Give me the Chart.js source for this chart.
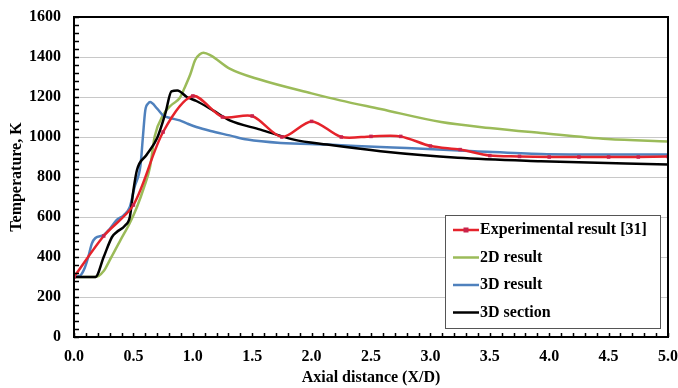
<!DOCTYPE html>
<html lang="en">
<head>
    <meta charset="UTF-8">
    <title>Axial temperature</title>
    <script src="https://cdn.jsdelivr.net/npm/chart.js"></script>
    <style>
        body { margin: 0; background: #fff; }
        #wrap { width: 678px; height: 388px; }
    </style>
</head>
<body>
    <div id="wrap"><canvas id="tempChart" width="678" height="388"></canvas></div>

    <script>
        // Measured temperature (markers every 0.25 X/D)
        const expX = [0, 0.25, 0.5, 0.75, 1.0, 1.25, 1.5, 1.75, 2.0, 2.25, 2.5, 2.75, 3.0, 3.25, 3.5, 3.75, 4.0, 4.25, 4.5, 4.75, 5.0];
        const expT = [300, 505, 660, 1025, 1205, 1100, 1105, 1000, 1078, 1000, 1003, 1003, 955, 937, 907, 903, 900, 900, 900, 900, 902];

        // 2D simulation
        const sim2dX = [0, 0.18, 0.25, 0.30, 0.39, 0.47, 0.53, 0.59, 0.64, 0.68, 0.75, 0.82, 0.89, 0.93, 0.98, 1.02, 1.06, 1.09, 1.15, 1.31, 1.57, 2.0, 2.24, 2.58, 3.09, 3.5, 3.93, 4.49, 5.0];
        const sim2dT = [300, 300, 330, 383, 483, 570, 650, 750, 850, 1005, 1110, 1160, 1195, 1245, 1315, 1385, 1414, 1421, 1408, 1342, 1286, 1218, 1183, 1140, 1075, 1045, 1020, 990, 978];

        // 3D simulation
        const sim3dX = [0, 0.05, 0.09, 0.12, 0.15, 0.18, 0.25, 0.30, 0.36, 0.42, 0.47, 0.51, 0.56, 0.58, 0.60, 0.625, 0.64, 0.70, 0.75, 0.81, 0.89, 0.95, 1.03, 1.15, 1.31, 1.46, 1.74, 2.13, 2.58, 2.8, 3.37, 3.93, 4.49, 5.0];
        const sim3dT = [300, 306, 345, 400, 467, 495, 510, 540, 585, 610, 650, 750, 860, 1000, 1133, 1168, 1175, 1142, 1108, 1095, 1083, 1068, 1050, 1030, 1008, 987, 970, 962, 950, 945, 929, 915, 912, 912];

        // 3D section
        const secX = [0, 0.18, 0.25, 0.32, 0.36, 0.43, 0.47, 0.50, 0.53, 0.61, 0.70, 0.77, 0.82, 0.87, 0.95, 1.03, 1.17, 1.31, 1.57, 1.85, 2.13, 2.58, 3.23, 3.93, 5.0];
        const secT = [300, 300, 400, 500, 525, 558, 600, 733, 835, 910, 995, 1120, 1228, 1233, 1200, 1180, 1133, 1083, 1037, 987, 962, 929, 896, 879, 862];

        const xTicks = [0, 0.5, 1, 1.5, 2, 2.5, 3, 3.5, 4, 4.5, 5];

        const serif = '"Liberation Serif", "Times New Roman", serif';
        const toPoints = (xs, ys) => xs.map((x, i) => ({ x: x, y: ys[i] }));

        // box, inward minor ticks and in-plot legend
        const decorations = {
            id: 'decorations',
            afterDatasetsDraw(chart) {
                const { ctx, chartArea: a, scales } = chart;
                ctx.save();
                ctx.strokeStyle = '#000';
                ctx.lineWidth = 1.5;
                ctx.beginPath();
                for (let v = 0; v <= 1600; v += 40) {
                    const y = Math.round(scales.y.getPixelForValue(v)) + 0.5;
                    ctx.moveTo(a.left, y);
                    ctx.lineTo(a.left + 5, y);
                }
                for (let i = 0; i <= 50; i++) {
                    const x = Math.round(scales.x.getPixelForValue(i / 10)) + 0.5;
                    ctx.moveTo(x, a.bottom);
                    ctx.lineTo(x, a.bottom - 4);
                }
                ctx.stroke();
                ctx.lineWidth = 2;
                ctx.strokeRect(a.left, a.top, a.right - a.left, a.bottom - a.top);
                ctx.restore();
            },
            afterDraw(chart) {
                const { ctx } = chart;
                const bx = 445, by = 215, bw = 215, bh = 113;
                ctx.save();
                ctx.fillStyle = '#fff';
                ctx.fillRect(bx, by, bw, bh);
                ctx.strokeStyle = '#555';
                ctx.lineWidth = 1;
                ctx.strokeRect(bx + 0.5, by + 0.5, bw, bh);
                ctx.font = 'bold 16px ' + serif;
                ctx.textBaseline = 'middle';
                chart.data.datasets.forEach((ds, i) => {
                    const y = by + 15 + i * 27.5;
                    ctx.strokeStyle = ds.borderColor;
                    ctx.lineWidth = ds.borderWidth;
                    ctx.beginPath();
                    ctx.moveTo(bx + 8, y);
                    ctx.lineTo(bx + 34, y);
                    ctx.stroke();
                    if (ds.pointRadius > 0) {
                        ctx.fillStyle = ds.pointBackgroundColor;
                        ctx.fillRect(bx + 21 - 2.5, y - 2.5, 5, 5);
                    }
                    ctx.fillStyle = '#000';
                    ctx.fillText(ds.label, bx + 35, y);
                });
                ctx.restore();
            }
        };

        new Chart(document.getElementById('tempChart'), {
            type: 'line',
            data: {
                datasets: [
                    {
                        label: 'Experimental result [31]',
                        data: toPoints(expX, expT),
                        borderColor: '#e5232b',
                        borderWidth: 2.5,
                        pointStyle: 'rect',
                        pointRadius: 2.5,
                        pointBackgroundColor: '#c9234b',
                        pointBorderWidth: 0,
                        tension: 0.3,
                        order: 0
                    },
                    {
                        label: '2D result',
                        data: toPoints(sim2dX, sim2dT),
                        borderColor: '#9bbb59',
                        borderWidth: 2.5,
                        pointRadius: 0,
                        cubicInterpolationMode: 'monotone',
                        order: 3
                    },
                    {
                        label: '3D result',
                        data: toPoints(sim3dX, sim3dT),
                        borderColor: '#4f81bd',
                        borderWidth: 2.5,
                        pointRadius: 0,
                        cubicInterpolationMode: 'monotone',
                        order: 2
                    },
                    {
                        label: '3D section',
                        data: toPoints(secX, secT),
                        borderColor: '#000000',
                        borderWidth: 2.5,
                        pointRadius: 0,
                        cubicInterpolationMode: 'monotone',
                        order: 1
                    }
                ]
            },
            options: {
                responsive: false,
                animation: false,
                layout: { padding: { left: 0, right: 10, top: 17, bottom: 0 } },
                plugins: {
                    legend: { display: false },
                    tooltip: { enabled: false }
                },
                scales: {
                    x: {
                        type: 'linear',
                        min: 0,
                        max: 5,
                        afterBuildTicks: s => { s.ticks = xTicks.map(v => ({ value: v })); },
                        afterFit: s => { s.height = 51; s.paddingLeft = 0; s.paddingRight = 0; },
                        grid: { display: false, drawTicks: false },
                        border: { display: false },
                        ticks: {
                            padding: 10,
                            color: '#000',
                            maxRotation: 0,
                            font: { family: serif, size: 16, weight: 'bold' },
                            callback: v => Number(v).toFixed(1)
                        },
                        title: {
                            display: true,
                            text: 'Axial distance (X/D)',
                            color: '#000',
                            padding: { top: 0, bottom: 1 },
                            font: { family: serif, size: 16, weight: 'bold' }
                        }
                    },
                    y: {
                        min: 0,
                        max: 1600,
                        afterFit: s => { s.width = 74; s.paddingTop = 0; s.paddingBottom = 0; },
                        grid: { color: '#c8c8c8', lineWidth: 1, drawTicks: false },
                        border: { display: false },
                        ticks: {
                            stepSize: 200,
                            padding: 13,
                            color: '#000',
                            font: { family: serif, size: 16, weight: 'bold' },
                            callback: v => String(v)
                        },
                        title: {
                            display: true,
                            text: 'Temperature, K',
                            color: '#000',
                            padding: { top: 7, bottom: 0 },
                            font: { family: serif, size: 16, weight: 'bold' }
                        }
                    }
                }
            },
            plugins: [decorations]
        });
    </script>
</body>
</html>
